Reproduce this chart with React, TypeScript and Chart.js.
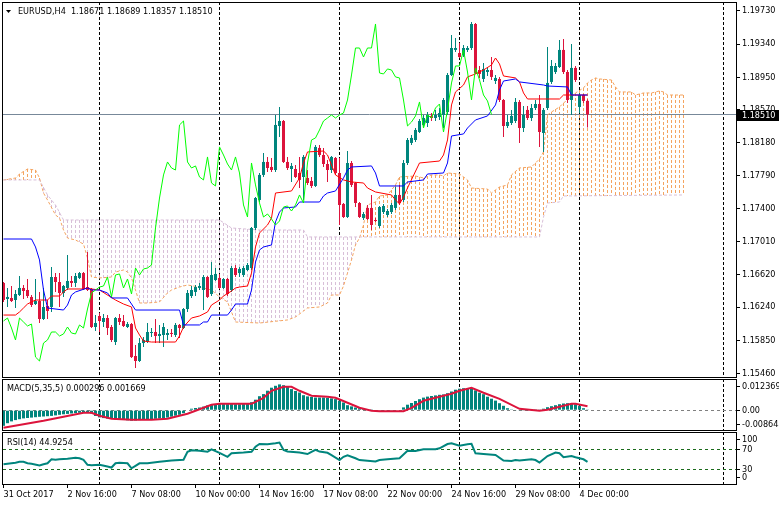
import React, { useEffect, useRef } from 'react';
import { Chart, registerables } from 'chart.js';

Chart.register(...registerables);

// ---------------- data ----------------
const SYMBOL_TITLE = 'EURUSD,H4  1.18671 1.18689 1.18357 1.18510';
const MACD_TITLE = 'MACD(5,35,5) 0.000296 0.001669';
const RSI_TITLE = 'RSI(14) 44.9254';
const LAST_PRICE = 1.1851;
const CHIKOU_SHIFT = 24;

const opens = [
  1.16525, 1.16336, 1.16348, 1.16324, 1.16383, 1.16466, 1.16442, 1.1636, 1.16277, 1.16312,
  1.161, 1.16254, 1.16242, 1.16595, 1.16536, 1.16407, 1.16466, 1.16548, 1.16525, 1.16584,
  1.16642, 1.16477, 1.16454, 1.16006, 1.16136, 1.16065, 1.16112, 1.16006, 1.15829, 1.16112,
  1.16077, 1.16006, 1.16041, 1.15664, 1.15605, 1.15817, 1.15829, 1.15935, 1.15947, 1.159,
  1.15912, 1.15912, 1.15935, 1.15912, 1.1603, 1.15994, 1.16218, 1.16371, 1.16419, 1.16466,
  1.16442, 1.16595, 1.16395, 1.1656, 1.16584, 1.16466, 1.16572, 1.16442, 1.16701, 1.16642,
  1.16619, 1.16678, 1.16701, 1.17173, 1.17503, 1.17798, 1.17951, 1.17892, 1.17856, 1.18375,
  1.18434, 1.17951, 1.17868, 1.17868, 1.17821, 1.17774, 1.17762, 1.17727, 1.17668, 1.18116,
  1.18033, 1.17927, 1.17856, 1.17998, 1.17821, 1.17456, 1.17302, 1.17939, 1.17703, 1.17467,
  1.17291, 1.17409, 1.17409, 1.17267, 1.17196, 1.17361, 1.17326, 1.17361, 1.17409, 1.17562,
  1.17503, 1.17939, 1.18175, 1.1821, 1.18304, 1.18387, 1.1841, 1.18493, 1.18469, 1.18481,
  1.18505, 1.1854, 1.18976, 1.19271, 1.19235, 1.19212, 1.19271, 1.19294, 1.19577, 1.19035,
  1.18929, 1.19011, 1.19035, 1.18905, 1.18929, 1.18681, 1.18375, 1.1841, 1.18434, 1.18658,
  1.18351, 1.18564, 1.18469, 1.18587, 1.18634, 1.18292, 1.18587, 1.18894, 1.19011, 1.1907,
  1.19271, 1.19011, 1.18681, 1.19059, 1.18599, 1.1874, 1.18671,
];
const highs = [
  1.16536, 1.16466, 1.16489, 1.16442, 1.16607, 1.16501, 1.16572, 1.16383, 1.16572, 1.16419,
  1.16466, 1.16324, 1.16713, 1.16642, 1.16642, 1.16501, 1.16855, 1.16607, 1.16642, 1.16654,
  1.16654, 1.1689, 1.16466, 1.16147, 1.16171, 1.16159, 1.16147, 1.1603, 1.16124, 1.16159,
  1.16147, 1.16065, 1.16053, 1.15794, 1.15876, 1.15888, 1.16053, 1.15994, 1.161, 1.1603,
  1.16053, 1.15982, 1.15982, 1.16053, 1.16041, 1.1623, 1.16442, 1.16489, 1.16501, 1.16525,
  1.16619, 1.16607, 1.16772, 1.16701, 1.16631, 1.16584, 1.16584, 1.16725, 1.16737, 1.16713,
  1.16725, 1.1676, 1.17185, 1.17538, 1.17821, 1.18057, 1.1801, 1.17998, 1.18505, 1.18599,
  1.18446, 1.1801, 1.17939, 1.17915, 1.1801, 1.18033, 1.17856, 1.17774, 1.18151, 1.18151,
  1.18116, 1.17974, 1.18021, 1.1801, 1.17998, 1.17467, 1.1808, 1.17962, 1.17715, 1.17479,
  1.17361, 1.17444, 1.17562, 1.17291, 1.17432, 1.17456, 1.17397, 1.17467, 1.17656, 1.1768,
  1.17974, 1.18234, 1.18269, 1.18351, 1.18457, 1.18505, 1.1854, 1.18528, 1.18564, 1.18587,
  1.18705, 1.19, 1.19448, 1.19412, 1.19353, 1.1933, 1.19318, 1.19601, 1.19589, 1.19082,
  1.19117, 1.1907, 1.19188, 1.18976, 1.18953, 1.18693, 1.18505, 1.18564, 1.18705, 1.18681,
  1.18611, 1.18611, 1.18634, 1.18681, 1.1874, 1.18587, 1.19306, 1.19153, 1.19117, 1.19389,
  1.194, 1.19035, 1.19342, 1.19082, 1.18764, 1.18752, 1.18689,
];
const lows = [
  1.16301, 1.16242, 1.16301, 1.1623, 1.16371, 1.16336, 1.16348, 1.16242, 1.16265, 1.16053,
  1.16089, 1.161, 1.16183, 1.16419, 1.16242, 1.1636, 1.16442, 1.16477, 1.16477, 1.16572,
  1.16442, 1.1643, 1.15994, 1.15959, 1.15947, 1.16006, 1.15912, 1.15829, 1.15794, 1.1603,
  1.16006, 1.15994, 1.15641, 1.15523, 1.15593, 1.1577, 1.15817, 1.15888, 1.15817, 1.15817,
  1.1577, 1.15853, 1.15888, 1.15888, 1.15876, 1.15982, 1.16183, 1.16348, 1.16371, 1.16442,
  1.16206, 1.16348, 1.16371, 1.16548, 1.16454, 1.16454, 1.16371, 1.16419, 1.16595, 1.16595,
  1.16595, 1.16666, 1.16678, 1.17149, 1.17479, 1.17774, 1.17833, 1.17833, 1.17833, 1.18245,
  1.17939, 1.17856, 1.17715, 1.17762, 1.17644, 1.17503, 1.1768, 1.17644, 1.17656, 1.1801,
  1.17892, 1.17715, 1.17821, 1.17798, 1.17208, 1.17291, 1.17291, 1.17656, 1.1742, 1.17291,
  1.17267, 1.17267, 1.17149, 1.17244, 1.17173, 1.17338, 1.17302, 1.17338, 1.17385, 1.17444,
  1.17479, 1.17915, 1.18151, 1.18186, 1.18292, 1.18351, 1.18363, 1.18434, 1.18434, 1.18446,
  1.18351, 1.18505, 1.18964, 1.19247, 1.19176, 1.19188, 1.19247, 1.19271, 1.18988, 1.18941,
  1.18894, 1.18964, 1.18917, 1.1887, 1.18658, 1.18245, 1.18351, 1.18387, 1.1841, 1.18175,
  1.18304, 1.18446, 1.18434, 1.18564, 1.18128, 1.18069, 1.18564, 1.1887, 1.18988, 1.19059,
  1.18988, 1.18646, 1.18505, 1.18894, 1.18528, 1.18646, 1.18357,
];
const closes = [
  1.16324, 1.1636, 1.16312, 1.16395, 1.16466, 1.1643, 1.16371, 1.16265, 1.16312, 1.161,
  1.16242, 1.16195, 1.16595, 1.16536, 1.16407, 1.16489, 1.16548, 1.16525, 1.16607, 1.16642,
  1.16454, 1.16442, 1.16006, 1.16053, 1.16077, 1.16112, 1.15994, 1.15853, 1.16112, 1.16065,
  1.16018, 1.16041, 1.15652, 1.15605, 1.15817, 1.15853, 1.15947, 1.15947, 1.159, 1.15924,
  1.16006, 1.15935, 1.15924, 1.1603, 1.15994, 1.16218, 1.16407, 1.16442, 1.16477, 1.16489,
  1.16595, 1.1636, 1.16619, 1.16631, 1.16466, 1.16572, 1.16395, 1.16701, 1.16619, 1.1669,
  1.16701, 1.16737, 1.17173, 1.17526, 1.17798, 1.17951, 1.1788, 1.17856, 1.18387, 1.18434,
  1.17951, 1.1788, 1.17904, 1.17774, 1.17739, 1.1801, 1.17703, 1.17668, 1.18128, 1.18033,
  1.17927, 1.17856, 1.1801, 1.17821, 1.17444, 1.17302, 1.17939, 1.1768, 1.17467, 1.17302,
  1.17338, 1.17279, 1.17208, 1.17255, 1.1742, 1.17432, 1.17373, 1.17444, 1.17562, 1.17467,
  1.17939, 1.1821, 1.18234, 1.18328, 1.18434, 1.18469, 1.18505, 1.18469, 1.18505, 1.18528,
  1.18681, 1.18976, 1.19294, 1.19294, 1.19188, 1.19294, 1.19294, 1.19577, 1.19, 1.18988,
  1.19047, 1.19035, 1.18953, 1.18941, 1.18681, 1.18375, 1.18422, 1.18493, 1.18658, 1.18351,
  1.18505, 1.18469, 1.18587, 1.18634, 1.18304, 1.18564, 1.18882, 1.19082, 1.19082, 1.19271,
  1.19011, 1.18681, 1.19059, 1.18917, 1.1874, 1.1867, 1.1851,
];

// Ichimoku lines: [bar, price]
const tenkan = [
  [0, 1.16147], [3, 1.16147], [4, 1.16183], [5, 1.1623], [6, 1.16277], [7, 1.16301], [8, 1.16324],
  [11, 1.16324], [12, 1.16371], [14, 1.16371], [15, 1.16419], [16, 1.16454], [20, 1.16454],
  [21, 1.16466], [22, 1.16454], [24, 1.16442], [28, 1.16324], [30, 1.16277], [32, 1.16242],
  [33, 1.15994], [34, 1.15912], [35, 1.15841], [37, 1.15829], [43, 1.15829], [44, 1.159],
  [45, 1.16006], [47, 1.16112], [49, 1.16136], [51, 1.16183], [52, 1.16265], [54, 1.16324],
  [55, 1.16371], [57, 1.1643], [58, 1.16466], [59, 1.16477], [61, 1.16489], [62, 1.16642],
  [63, 1.16949], [64, 1.17114], [66, 1.17208], [67, 1.17291], [68, 1.17585], [72, 1.17609],
  [74, 1.17762], [75, 1.17939], [76, 1.18069], [80, 1.1808], [81, 1.18033], [83, 1.17798],
  [85, 1.17739], [87, 1.17715], [90, 1.17703], [91, 1.17644], [93, 1.17597], [97, 1.17562],
  [98, 1.17503], [99, 1.17456], [100, 1.17538], [101, 1.17644], [104, 1.17939], [109, 1.17962],
  [110, 1.18033], [111, 1.1821], [112, 1.18623], [113, 1.18776], [115, 1.18858], [116, 1.18953],
  [118, 1.18988], [120, 1.19035], [122, 1.19094], [123, 1.19176], [124, 1.19106], [125, 1.18964],
  [128, 1.18941], [129, 1.18894], [130, 1.18764], [131, 1.18693], [139, 1.18693], [140, 1.1874],
  [146, 1.1874],
];
const kijun = [
  [0, 1.17043], [7, 1.17043], [8, 1.16949], [9, 1.16796], [10, 1.16442], [11, 1.1623], [15, 1.16206],
  [16, 1.16265], [17, 1.16383], [18, 1.16419], [21, 1.16466], [22, 1.16442], [24, 1.16442],
  [26, 1.16407], [27, 1.16348], [31, 1.16348], [32, 1.16277], [33, 1.16206], [44, 1.16206],
  [45, 1.1603], [49, 1.1603], [50, 1.16065], [51, 1.16065], [52, 1.16147], [56, 1.16147],
  [57, 1.16206], [58, 1.16277], [61, 1.16277], [62, 1.16442], [63, 1.16772], [64, 1.16914],
  [65, 1.16949], [67, 1.16973], [68, 1.17244], [69, 1.17361], [70, 1.17409], [73, 1.1742],
  [74, 1.17479], [79, 1.17479], [80, 1.1755], [81, 1.17585], [83, 1.17609], [85, 1.17762],
  [86, 1.17856], [87, 1.17892], [92, 1.17904], [93, 1.17821], [94, 1.17668], [100, 1.17668],
  [101, 1.17715], [105, 1.17739], [106, 1.17809], [110, 1.17821], [111, 1.17939], [112, 1.18257],
  [115, 1.18281], [116, 1.18351], [118, 1.18446], [121, 1.18493], [123, 1.18623], [124, 1.18799],
  [125, 1.18905], [128, 1.18929], [129, 1.18894], [135, 1.18858], [136, 1.18846], [141, 1.18835],
  [142, 1.1874], [146, 1.1874],
];
const senkouA = [
  [0, 1.17739], [3, 1.17762], [4, 1.17809], [6, 1.17868], [8, 1.17856], [9, 1.17762], [10, 1.17585],
  [11, 1.17503], [13, 1.17326], [14, 1.17291], [15, 1.17149], [16, 1.17055], [18, 1.17031],
  [20, 1.16984], [21, 1.16819], [22, 1.16595], [24, 1.16584], [27, 1.16595], [28, 1.16654],
  [30, 1.16678], [31, 1.16654], [32, 1.16584], [33, 1.16442], [34, 1.16289], [36, 1.16289],
  [39, 1.16301], [41, 1.16407], [42, 1.16442], [44, 1.16477], [46, 1.16501], [49, 1.16477],
  [52, 1.16442], [54, 1.1636], [56, 1.16301], [57, 1.16183], [58, 1.16065], [64, 1.16053],
  [71, 1.16089], [73, 1.16124], [76, 1.1623], [79, 1.16242], [81, 1.16289], [82, 1.16383],
  [84, 1.16383], [85, 1.16489], [86, 1.16642], [87, 1.16796], [88, 1.16973], [89, 1.17055],
  [90, 1.17208], [91, 1.17444], [93, 1.17479], [94, 1.1755], [96, 1.17562], [97, 1.17621],
  [98, 1.1768], [99, 1.17774], [103, 1.17786], [105, 1.17762], [107, 1.17798], [109, 1.17798],
  [110, 1.17786], [111, 1.17821], [114, 1.17809], [116, 1.17739], [117, 1.17644], [121, 1.17632],
  [122, 1.17585], [124, 1.17656], [126, 1.1768], [127, 1.17798], [129, 1.1788], [132, 1.17892],
  [134, 1.17986], [135, 1.18069], [136, 1.18505], [137, 1.1854], [139, 1.18599], [140, 1.18646],
  [141, 1.18681], [142, 1.18717], [143, 1.18764], [145, 1.18823], [146, 1.18882], [147, 1.18917],
  [148, 1.18941], [149, 1.18929], [152, 1.18917], [153, 1.18835], [154, 1.18776], [157, 1.18776],
  [158, 1.1874], [160, 1.18764], [162, 1.18764], [164, 1.18788], [165, 1.18776], [166, 1.1874],
  [170, 1.1874],
];
const senkouB = [
  [0, 1.17739], [9, 1.17739], [11, 1.17562], [13, 1.17444], [15, 1.17267], [54, 1.17267],
  [57, 1.17173], [64, 1.17149], [75, 1.17149], [76, 1.17067], [134, 1.17067], [135, 1.17302],
  [136, 1.17467], [139, 1.17479], [140, 1.1755], [170, 1.17562],
];
const CLOUD_LAST_BAR = 170;

const priceTicks = [1.1973, 1.1934, 1.1895, 1.1857, 1.1818, 1.1779, 1.174, 1.1701, 1.1662, 1.1624, 1.1585, 1.1546];

const macdHist = [
  -6.55e-3, -5.46e-3, -4.7e-3, -4.16e-3, -3.78e-3, -3.44e-3, -3.28e-3, -3.11e-3, -2.94e-3, -2.77e-3,
  -2.65e-3, -2.52e-3, -2.39e-3, -2.18e-3, -1.93e-3, -1.72e-3, -1.55e-3, -1.39e-3, -1.22e-3, -1.09e-3,
  -0.97e-3, -0.97e-3, -1.39e-3, -2.44e-3, -3.02e-3, -3.32e-3, -3.53e-3, -3.7e-3, -3.86e-3, -3.99e-3,
  -4.12e-3, -4.24e-3, -4.41e-3, -4.33e-3, -4.16e-3, -4.03e-3, -3.91e-3, -3.78e-3, -3.61e-3, -3.49e-3,
  -3.32e-3, -3.11e-3, -2.73e-3, -2.31e-3, -1.93e-3, -1.26e-3, -0.21e-3, 0.63e-3, 0.92e-3, 1.13e-3,
  1.51e-3, 2.02e-3, 2.27e-3, 2.48e-3, 2.56e-3, 2.56e-3, 2.56e-3, 2.56e-3, 2.52e-3, 2.52e-3,
  2.56e-3, 2.6e-3, 3.36e-3, 4.41e-3, 5.88e-3, 6.76e-3, 8.19e-3, 9.45e-3, 10.25e-3, 10.84e-3,
  10.5e-3, 9.87e-3, 8.86e-3, 8.06e-3, 7.43e-3, 6.3e-3, 5.8e-3, 5.54e-3, 5.33e-3, 5.33e-3,
  5.33e-3, 5.21e-3, 4.96e-3, 4.66e-3, 3.99e-3, 3.23e-3, 2.1e-3, 1.6e-3, 1.13e-3, 0.84e-3,
  0.55e-3, 0.29e-3, 0.08e-3, -0.21e-3, -0.38e-3, -0.5e-3, -0.5e-3, -0.38e-3, -0.25e-3, 0.21e-3,
  1.18e-3, 2.31e-3, 3.02e-3, 3.86e-3, 4.62e-3, 5.29e-3, 5.71e-3, 5.96e-3, 6.22e-3, 6.47e-3,
  6.64e-3, 7.14e-3, 7.85e-3, 8.61e-3, 9.03e-3, 9.24e-3, 9.2e-3, 8.99e-3, 8.32e-3, 7.35e-3,
  6.72e-3, 5.67e-3, 4.83e-3, 4.03e-3, 2.94e-3, 1.85e-3, 0.84e-3, 0.34e-3, -0.17e-3, -0.25e-3,
  -0.13e-3, -0.08e-3, 0.04e-3, 0.08e-3, 0.13e-3, 0.63e-3, 1.26e-3, 1.68e-3, 2.1e-3, 2.52e-3,
  2.81e-3, 2.94e-3, 2.86e-3, 2.52e-3, 1.85e-3, 0.84e-3, 0.296e-3,
];
const macdSignal = [
  [0, -7.39e-3], [10, -4.45e-3], [20, -1.09e-3], [22, -1.09e-3], [24, -2.35e-3], [27, -3.61e-3],
  [32, -4.03e-3], [37, -4.03e-3], [41, -3.61e-3], [46, -1.51e-3], [48, -0.25e-3], [52, 2.27e-3],
  [54, 2.69e-3], [62, 2.69e-3], [63, 3.53e-3], [65, 5.21e-3], [67, 8.15e-3], [70, 9.83e-3],
  [72, 9.83e-3], [74, 8.15e-3], [77, 6.05e-3], [81, 5.63e-3], [83, 5.21e-3], [86, 3.11e-3],
  [89, 1.01e-3], [92, -0.25e-3], [94, -0.42e-3], [100, -0.42e-3], [102, 1.01e-3], [105, 3.95e-3],
  [109, 5.63e-3], [112, 6.89e-3], [114, 8.15e-3], [117, 9.41e-3], [120, 7.31e-3], [124, 4.79e-3],
  [129, 0.59e-3], [134, -0.25e-3], [136, 0.17e-3], [138, 1.01e-3], [142, 2.69e-3], [143, 2.69e-3],
  [146, 1.669e-3],
];
const macdTickLabels = ['0.012369', '0.00', '-0.008644'];

const rsiLine = [
  [0, 40], [2, 42], [3, 43], [4, 45], [5, 45], [6, 42], [7, 41], [9, 37.5], [10, 40], [11, 42],
  [12, 50], [13, 49], [14, 50], [16, 51], [18, 53], [19, 52], [20, 49], [21, 39], [22, 38], [24, 39],
  [26, 35.5], [27, 33.5], [28, 42], [29, 43], [31, 42], [32, 32], [33, 37], [34, 42], [36, 42],
  [39, 45], [42, 47.5], [45, 49], [46, 65], [47, 68], [49, 67], [51, 65], [52, 70], [54, 63],
  [56, 55], [57, 62], [60, 63.5], [62, 65], [63, 75], [64, 80.5], [66, 80], [68, 82], [69, 83.5],
  [70, 68.5], [71, 65.5], [74, 63.5], [76, 60.5], [77, 65], [78, 69], [79, 65.5], [81, 63],
  [82, 58.5], [84, 48.5], [85, 55], [86, 58], [88, 52], [89, 48.5], [93, 45.5], [94, 48.5],
  [96, 50], [99, 52], [101, 67], [103, 66.5], [105, 70], [108, 70], [109, 72], [111, 80.5],
  [112, 82], [114, 77], [116, 80], [117, 81], [118, 62], [120, 60.5], [123, 58.5], [125, 47.5],
  [127, 46.5], [128, 48.5], [129, 47.5], [132, 50], [133, 48.5], [134, 43.5], [136, 56.5],
  [138, 63.5], [139, 62], [140, 54], [142, 56.5], [143, 54], [145, 50], [146, 44.93],
];
const rsiLevels = [70, 30];
const rsiTickLabels = ['100', '70', '30', '0'];

const dateLabels = ['31 Oct 2017', '2 Nov 16:00', '7 Nov 08:00', '10 Nov 00:00', '14 Nov 16:00', '17 Nov 08:00', '22 Nov 00:00', '24 Nov 16:00', '29 Nov 08:00', '4 Dec 00:00'];
const dateLabelBars = [0, 16, 32, 48, 64, 80, 96, 112, 128, 144];
const gridBars = [24, 54, 84, 114, 144, 180];

// ---------------- styling ----------------
const X_MIN = -0.375;
const X_MAX = 183.375;
const AXIS_W = 42;
const TEAL = '#00857d';
const CRIMSON = '#dc143c';
const SANDY = '#f4a460';
const THISTLE = '#d8bfd8';
const FONT = '"DejaVu Sans Condensed", "Liberation Sans", Arial, sans-serif';
const TXT = `9px ${FONT}`;

const pts = (arr: number[][]) => arr.map(([x, y]) => ({ x, y }));
const idx = opens.map((_, i) => i);
const candleColor = (i: number) => (closes[i] >= opens[i] ? TEAL : CRIMSON);

function noPad(s: any) {
  s.paddingTop = 0;
  s.paddingBottom = 0;
  s.paddingLeft = 0;
  s.paddingRight = 0;
}

function drawFrame(chart: any) {
  const { ctx, chartArea: a } = chart;
  ctx.save();
  ctx.setLineDash([]);
  ctx.strokeStyle = '#000';
  ctx.lineWidth = 1;
  ctx.strokeRect(a.left + 0.5, a.top + 0.5, a.right - a.left - 1, a.bottom - a.top - 1);
  ctx.restore();
}

function drawVGrid(chart: any) {
  const { ctx, chartArea: a, scales } = chart;
  ctx.save();
  ctx.beginPath();
  ctx.rect(a.left, a.top, a.right - a.left, a.bottom - a.top);
  ctx.clip();
  ctx.strokeStyle = '#000';
  ctx.lineWidth = 1;
  ctx.setLineDash([3, 2]);
  gridBars.forEach((b) => {
    const px = Math.floor(scales.x.getPixelForValue(b)) + 0.5;
    ctx.beginPath();
    ctx.moveTo(px, a.top);
    ctx.lineTo(px, a.bottom);
    ctx.stroke();
  });
  ctx.restore();
}

function hLine(chart: any, value: number, color: string, dash: number[]) {
  const { ctx, chartArea: a, scales } = chart;
  const py = Math.floor(scales.y.getPixelForValue(value)) + 0.5;
  ctx.save();
  ctx.strokeStyle = color;
  ctx.lineWidth = 1;
  ctx.setLineDash(dash);
  ctx.beginPath();
  ctx.moveTo(a.left + 1, py);
  ctx.lineTo(a.right - 1, py);
  ctx.stroke();
  ctx.restore();
}

function drawLabel(chart: any, text: string, x: number, y: number) {
  const { ctx } = chart;
  ctx.save();
  ctx.font = TXT;
  ctx.fillStyle = '#000';
  ctx.textBaseline = 'middle';
  ctx.textAlign = 'left';
  ctx.fillText(text, x, y);
  ctx.restore();
}

// Kumo hatch: one dotted vertical stroke per bar between Senkou A and Senkou B,
// positioned by the library's own line elements; colour by which span is higher.
function drawCloud(chart: any) {
  const { ctx, chartArea: a, scales } = chart;
  const la = chart.getDatasetMeta(0).dataset;
  const lb = chart.getDatasetMeta(1).dataset;
  if (!la || !lb) return;
  const one = (p: any) => (Array.isArray(p) ? p[0] : p);
  ctx.save();
  ctx.beginPath();
  ctx.rect(a.left, a.top, a.right - a.left, a.bottom - a.top);
  ctx.clip();
  ctx.lineWidth = 1;
  ctx.setLineDash([3, 2]);
  for (let j = 0; j <= CLOUD_LAST_BAR; j++) {
    const px = scales.x.getPixelForValue(j);
    const pa = one(la.interpolate({ x: px }, 'x'));
    const pb = one(lb.interpolate({ x: px }, 'x'));
    if (!pa || !pb) continue;
    const va = scales.y.getValueForPixel(pa.y);
    const vb = scales.y.getValueForPixel(pb.y);
    const cx = Math.floor(px) + 0.5;
    ctx.strokeStyle = va >= vb ? SANDY : THISTLE;
    ctx.beginPath();
    ctx.moveTo(cx, Math.round(Math.min(pa.y, pb.y)));
    ctx.lineTo(cx, Math.round(Math.max(pa.y, pb.y)));
    ctx.stroke();
  }
  ctx.restore();
}

const xScale = { type: 'linear', min: X_MIN, max: X_MAX, display: false, offset: false };

const yAxisBase = (min: number, max: number, tickValues: number[], label: (v: number, i: number) => string) => ({
  type: 'linear',
  position: 'right',
  min,
  max,
  beginAtZero: false,
  afterBuildTicks: (s: any) => {
    s.ticks = tickValues.map((v) => ({ value: v }));
  },
  afterFit: (s: any) => {
    s.width = AXIS_W;
    noPad(s);
  },
  ticks: {
    callback: (v: any, i: number) => label(Number(v), i),
    font: { family: FONT, size: 9 },
    color: '#000',
    padding: 2,
    autoSkip: false,
  },
  grid: { display: true, drawOnChartArea: false, drawTicks: true, tickLength: 3, color: '#000' },
  border: { display: false },
});

const common = {
  animation: false,
  responsive: false,
  maintainAspectRatio: false,
  events: [],
  plugins: { legend: { display: false }, tooltip: { enabled: false }, title: { display: false } },
};

export default function App() {
  const mainRef = useRef<HTMLCanvasElement>(null);
  const macdRef = useRef<HTMLCanvasElement>(null);
  const rsiRef = useRef<HTMLCanvasElement>(null);

  useEffect(() => {
    const mainDecor = {
      id: 'mainDecor',
      beforeDatasetsDraw(chart: any) {
        drawVGrid(chart);
        drawCloud(chart);
        hLine(chart, LAST_PRICE, '#778899', []);
      },
      afterDraw(chart: any) {
        const { ctx, chartArea: a, scales } = chart;
        drawFrame(chart);
        ctx.save();
        ctx.fillStyle = '#000';
        ctx.beginPath();
        ctx.moveTo(6, 10);
        ctx.lineTo(11, 10);
        ctx.lineTo(8.5, 13);
        ctx.closePath();
        ctx.fill();
        ctx.restore();
        drawLabel(chart, SYMBOL_TITLE, 18, 12);
        const py = Math.floor(scales.y.getPixelForValue(LAST_PRICE)) + 0.5;
        ctx.save();
        ctx.fillStyle = '#000';
        ctx.fillRect(a.right, py - 4.5, 779 - a.right, 11);
        ctx.font = TXT;
        ctx.fillStyle = '#fff';
        ctx.textBaseline = 'middle';
        ctx.fillText(LAST_PRICE.toFixed(5), a.right + 5, py + 1);
        ctx.restore();
      },
    };

    const main = new Chart(mainRef.current!, {
      type: 'bar',
      data: {
        datasets: [
          {
            type: 'line',
            label: 'Senkou Span A',
            data: pts(senkouA),
            borderColor: SANDY,
            borderWidth: 1,
            borderDash: [3, 2],
            pointRadius: 0,
            tension: 0,
            fill: false,
            order: 10,
          },
          {
            type: 'line',
            label: 'Senkou Span B',
            data: pts(senkouB),
            borderColor: THISTLE,
            borderWidth: 1,
            borderDash: [3, 2],
            pointRadius: 0,
            tension: 0,
            fill: false,
            order: 9,
          },
          {
            type: 'bar',
            label: 'Wick',
            data: idx.map((i) => ({ x: i, y: [lows[i], highs[i]] })),
            backgroundColor: (c: any) => candleColor(c.dataIndex),
            barThickness: 1,
            grouped: false,
            borderWidth: 0,
            inflateAmount: 0,
            order: 5,
          },
          {
            type: 'bar',
            label: 'Body',
            data: idx.map((i) => ({ x: i, y: [opens[i], closes[i]] })),
            backgroundColor: (c: any) => candleColor(c.dataIndex),
            barThickness: 3,
            grouped: false,
            borderWidth: 0,
            inflateAmount: 0,
            minBarLength: 1,
            order: 4,
          },
          {
            type: 'line',
            label: 'Tenkan-sen',
            data: pts(tenkan),
            borderColor: '#ff0000',
            borderWidth: 1,
            pointRadius: 0,
            tension: 0,
            fill: false,
            order: 2,
          },
          {
            type: 'line',
            label: 'Kijun-sen',
            data: pts(kijun),
            borderColor: '#0000ff',
            borderWidth: 1,
            pointRadius: 0,
            tension: 0,
            fill: false,
            order: 1,
          },
          {
            type: 'line',
            label: 'Chikou Span',
            data: closes.slice(CHIKOU_SHIFT).map((c, i) => ({ x: i, y: c })),
            borderColor: '#00ff00',
            borderWidth: 1,
            pointRadius: 0,
            tension: 0,
            fill: false,
            order: 0,
          },
        ],
      } as any,
      options: {
        ...common,
        layout: { padding: { left: 2, top: 2, right: 0, bottom: 2 }, autoPadding: false },
        scales: {
          x: xScale,
          y: yAxisBase(1.15405, 1.19836, priceTicks, (v) => v.toFixed(5)),
        },
      } as any,
      plugins: [mainDecor],
    });

    const macdDecor = {
      id: 'macdDecor',
      beforeDatasetsDraw(chart: any) {
        drawVGrid(chart);
        hLine(chart, 0, '#808080', [3, 3]);
      },
      afterDraw(chart: any) {
        drawFrame(chart);
        drawLabel(chart, MACD_TITLE, 7, chart.chartArea.top + 9.5);
      },
    };

    const macd = new Chart(macdRef.current!, {
      type: 'bar',
      data: {
        datasets: [
          {
            type: 'line',
            label: 'Signal',
            data: pts(macdSignal),
            borderColor: CRIMSON,
            borderWidth: 2,
            pointRadius: 0,
            tension: 0,
            fill: false,
            order: 0,
          },
          {
            type: 'bar',
            label: 'MACD',
            data: idx.map((i) => ({ x: i, y: macdHist[i] })),
            backgroundColor: TEAL,
            barThickness: 3,
            grouped: false,
            borderWidth: 0,
            inflateAmount: 0,
            order: 1,
          },
        ],
      } as any,
      options: {
        ...common,
        layout: { padding: { left: 2, top: 1, right: 0, bottom: 1 }, autoPadding: false },
        scales: {
          x: xScale,
          y: yAxisBase(-0.008736, 0.013104, [0.00987, 0, -0.005922], (_v, i) => macdTickLabels[i] ?? ''),
        },
      } as any,
      plugins: [macdDecor],
    });

    const rsiDecor = {
      id: 'rsiDecor',
      beforeDatasetsDraw(chart: any) {
        drawVGrid(chart);
        rsiLevels.forEach((lv) => hLine(chart, lv, '#1c6b1c', [3, 3]));
      },
      afterDraw(chart: any) {
        drawFrame(chart);
        drawLabel(chart, RSI_TITLE, 7, chart.chartArea.top + 10.5);
      },
    };

    const rsi = new Chart(rsiRef.current!, {
      type: 'line',
      data: {
        datasets: [
          {
            label: 'RSI',
            data: pts(rsiLine),
            borderColor: TEAL,
            borderWidth: 2,
            pointRadius: 0,
            tension: 0,
            fill: false,
          },
        ],
      } as any,
      options: {
        ...common,
        layout: { padding: { left: 2, top: 1, right: 0, bottom: 0 }, autoPadding: false },
        scales: {
          x: {
            type: 'linear',
            position: 'bottom',
            min: X_MIN,
            max: X_MAX,
            offset: false,
            afterBuildTicks: (s: any) => {
              s.ticks = dateLabelBars.map((v) => ({ value: v }));
            },
            afterFit: (s: any) => {
              s.height = 20;
              noPad(s);
            },
            ticks: {
              callback: (_v: any, i: number) => dateLabels[i] ?? '',
              align: 'start',
              autoSkip: false,
              maxRotation: 0,
              minRotation: 0,
              font: { family: FONT, size: 9 },
              color: '#000',
              padding: 1,
            },
            grid: { display: true, drawOnChartArea: false, drawTicks: true, tickLength: 3, color: '#000', offset: false },
            border: { display: false },
          },
          y: yAxisBase(-1.4, 104.6, [88.6, 70, 30, 14], (_v, i) => rsiTickLabels[i] ?? ''),
        },
      } as any,
      plugins: [rsiDecor],
    });

    return () => {
      main.destroy();
      macd.destroy();
      rsi.destroy();
    };
  }, []);

  const cv = (top: number): React.CSSProperties => ({ position: 'absolute', left: 0, top, display: 'block' });

  return (
    <div style={{ position: 'fixed', left: 0, top: 0, width: 779, height: 505, background: '#fff', overflow: 'hidden' }}>
      <canvas ref={mainRef} width={779} height={380} style={cv(0)} />
      <canvas ref={macdRef} width={779} height={54} style={cv(378)} />
      <canvas ref={rsiRef} width={779} height={74} style={cv(431)} />
    </div>
  );
}
